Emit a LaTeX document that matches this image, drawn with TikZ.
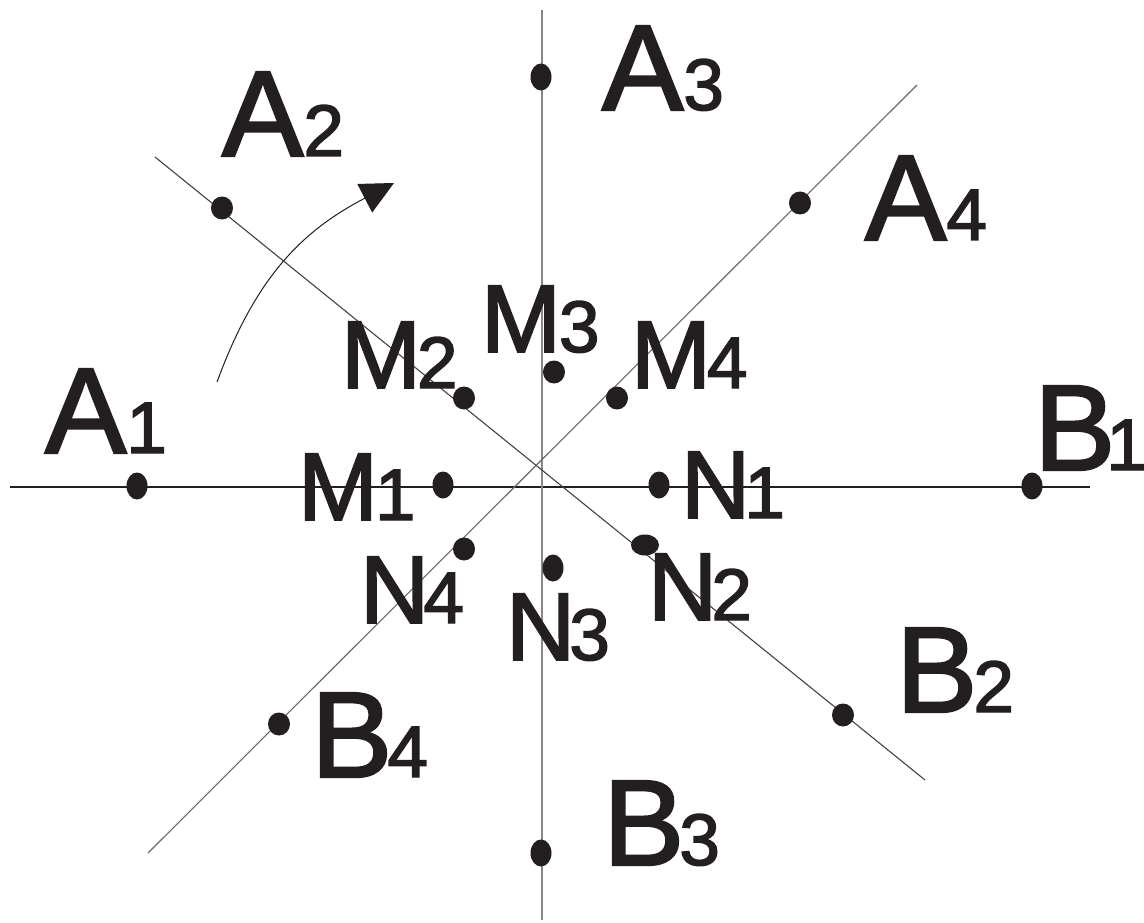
\documentclass[tikz,border=0pt]{standalone}
\usepackage{fontspec}
\setmainfont{Liberation Sans}
\newfontfamily\labfont{Liberation Sans}[FakeBold=2]
\usetikzlibrary{arrows.meta,shapes.geometric}
\definecolor{ink}{RGB}{35,31,32}
\definecolor{lgray}{RGB}{135,135,135}
\definecolor{mgray}{RGB}{105,105,105}
\newcommand\labdig[1]{{\fontsize{73}{73}\selectfont #1}}
\begin{document}
\begin{tikzpicture}[x=1pt,y=-1pt,
  dot/.style={ellipse,fill=ink,draw=none,inner sep=0pt,minimum width=22pt,minimum height=23pt},
  tall/.style={minimum width=21pt,minimum height=27pt},
  wide/.style={minimum width=28pt,minimum height=21pt},
  big/.style={anchor=base west,inner sep=0pt,outer sep=0pt,text=ink,font=\labfont\fontsize{122}{122}\selectfont},
  small/.style={anchor=base west,inner sep=0pt,outer sep=0pt,text=ink,font=\labfont\fontsize{96}{96}\selectfont},
  hline/.style={draw=ink,line width=1.4pt},
  vline/.style={draw=lgray,line width=2.2pt},
  dlineA/.style={draw=ink!85,line width=1.1pt},
  dlineB/.style={draw=mgray,line width=1.1pt},
  arc/.style={draw=ink,line width=1pt,-{Triangle[length=33pt,width=32pt]}},
]
\useasboundingbox (0,0) rectangle (1144,923);
\fill[white] (0,0) rectangle (1144,923);

% axis line ends
\coordinate (h1) at (10,487);
\coordinate (h2) at (1090,487);
\coordinate (v1) at (542,10);
\coordinate (v2) at (542,920);
\coordinate (d1a) at (155,157);
\coordinate (d1b) at (925,780);
\coordinate (d2a) at (148,853);
\coordinate (d2b) at (917,85);
\coordinate (arcS) at (217,382);
\coordinate (arcE) at (394,183);

\draw[hline] (h1) -- (h2);
\draw[vline] (v1) -- (v2);
\draw[dlineA] (d1a) -- (d1b);
\draw[dlineB] (d2a) -- (d2b);
\draw[arc] (arcS) .. controls (255,279) and (300,232) .. (arcE);

% dots
\node[dot,tall] (dA1) at (137,486) {};
\node[dot,tall] (dM1) at (443,485) {};
\node[dot,tall] (dN1) at (659,485) {};
\node[dot,tall] (dB1) at (1032,486) {};
\node[dot,tall] (dA3) at (541,77) {};
\node[dot] (dM3) at (554,372) {};
\node[dot,tall] (dN3) at (553,568) {};
\node[dot,tall] (dB3) at (541,853) {};
\node[dot] (dA2) at (222,208) {};
\node[dot] (dM2) at (464,398) {};
\node[dot,wide] (dN2) at (645,545) {};
\node[dot] (dB2) at (843,715) {};
\node[dot] (dA4) at (800,203) {};
\node[dot] (dM4) at (617,398) {};
\node[dot] (dN4) at (464,549) {};
\node[dot] (dB4) at (279,724) {};

% labels
\node[big] (lA1) at (45,453) {A\labdig{1}};
\node[big] (lA2) at (222,156) {A\labdig{2}};
\node[big] (lA3) at (602,110) {A\labdig{3}};
\node[big] (lA4) at (865,240) {A\labdig{4}};
\node[big] (lB1) at (1034,470) {B\kern-9pt\labdig{\makebox[28pt][l]{1}}};
\node[big] (lB2) at (896,712) {B\kern-4pt\labdig{2}};
\node[big] (lB3) at (603,865) {B\kern-5pt\labdig{3}};
\node[big] (lB4) at (311,777) {B\kern-5pt\labdig{4}};
\node[small] (lM1) at (298,520) {M\kern-3pt\labdig{1}};
\node[small] (lM2) at (341,388) {M\kern-4pt\labdig{2}};
\node[small] (lM3) at (481,352) {M\kern-2pt\labdig{3}};
\node[small] (lM4) at (631,388) {M\kern-4pt\labdig{4}};
\node[small] (lN1) at (681,518) {N\kern-6pt\labdig{1}};
\node[small] (lN2) at (648,620) {N\kern-6pt\labdig{2}};
\node[small] (lN3) at (506,660) {N\kern-6pt\labdig{3}};
\node[small] (lN4) at (360,623) {N\kern-6pt\labdig{4}};
\end{tikzpicture}
\end{document}
